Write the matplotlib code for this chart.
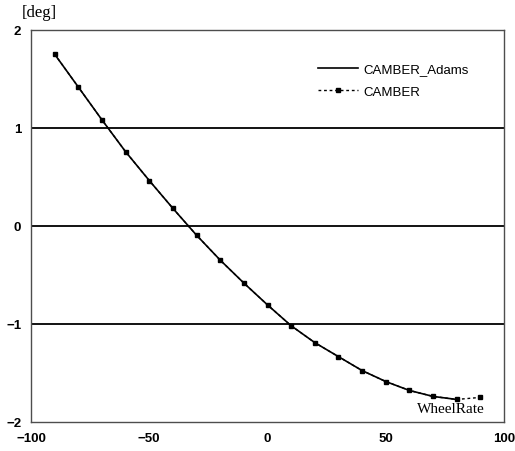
import numpy as np
import matplotlib.pyplot as plt

# wheel travel and camber values
wheel_rate = [-90, -80, -70, -60, -50, -40, -30, -20, -10, 0,
              10, 20, 30, 40, 50, 60, 70, 80, 90]
camber = [1.753, 1.418, 1.083, 0.758, 0.464, 0.180, -0.094, -0.348, -0.582, -0.805,
          -1.018, -1.190, -1.333, -1.475, -1.587, -1.678, -1.739, -1.770, -1.749]
camber_adams = camber[:-1]
wheel_rate_adams = wheel_rate[:-1]

x_ticks = [-100, -50, 0, 50, 100]
y_ticks = [-2, -1, 0, 1, 2]

fig = plt.figure(figsize=(5.15, 4.52), dpi=100)
ax = fig.add_axes([31 / 515, 1 - 423 / 452, (504 - 31) / 515, (423 - 31) / 452])

for yv in [-1, 0, 1]:
    ax.axhline(yv, color='black', lw=1.3, zorder=1)

ax.plot(wheel_rate, camber, color='black', ls=(0, (2, 2)), lw=1.0,
        marker='s', ms=3.5, mfc='black', mec='black', mew=1.0,
        label='CAMBER', zorder=2)
ax.plot(wheel_rate_adams, camber_adams, color='black', lw=1.2,
        label='CAMBER_Adams', zorder=3)

ax.set_xlim(-100, 100)
ax.set_ylim(-2, 2)
ax.set_xticks(x_ticks)
ax.set_yticks(y_ticks)
ax.tick_params(length=0, labelsize=9.5, pad=7)
for lab in ax.get_xticklabels() + ax.get_yticklabels():
    lab.set_fontfamily('Liberation Sans')
    lab.set_fontweight('bold')

for s in ax.spines.values():
    s.set_linestyle((0, (1, 1)))
    s.set_color('0.3')
    s.set_linewidth(1.0)

handles, labels = ax.get_legend_handles_labels()
ax.legend(handles[::-1], labels[::-1], loc='upper left',
          bbox_to_anchor=(0.607, 0.915), frameon=False, handlelength=3.0,
          handletextpad=0.45, borderpad=0, borderaxespad=0,
          prop={'family': 'Liberation Sans', 'size': 9.5}, labelspacing=0.75)

fig.text(22 / 515, 1 - 13 / 452, '[deg]', family='Liberation Serif', fontsize=12,
         va='center', ha='left')
ax.text(0.96, 0.018, 'WheelRate', transform=ax.transAxes, family='Liberation Serif',
        fontsize=11, ha='right', va='bottom')

fig.savefig('out.png', dpi=100)
